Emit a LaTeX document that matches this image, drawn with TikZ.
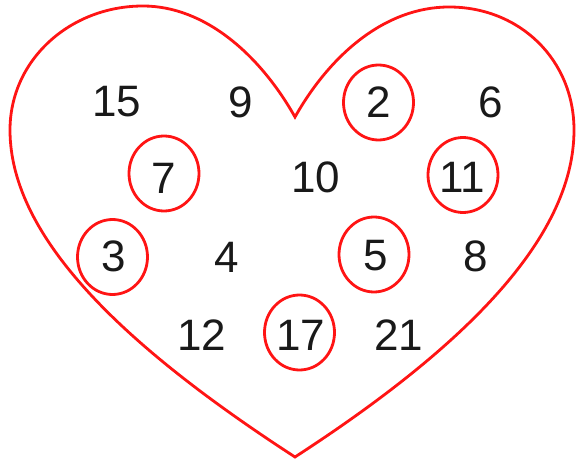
\documentclass[tikz,border=0pt]{standalone}
\usepackage{fontspec}
\setmainfont{Liberation Sans}
\usetikzlibrary{shapes.geometric}
\definecolor{heartred}{RGB}{255,20,20}
\definecolor{numink}{RGB}{25,25,25}
\begin{document}
\begin{tikzpicture}[x=1pt,y=-1pt,
  num/.style={inner sep=0pt, text=numink, font=\fontsize{44}{48}\selectfont},
  ring/.style={ellipse, draw=heartred, line width=2.8pt, minimum width=70pt, minimum height=75pt, inner sep=0pt},
  heartline/.style={draw=heartred, line width=2.8pt, line join=miter}]
\useasboundingbox (0,0) rectangle (576,462);
% heart
\coordinate (N) at (295,117);
\coordinate (LT) at (143,6);
\coordinate (LE) at (10,130);
\coordinate (B) at (295,457);
\coordinate (RE) at (574,130);
\coordinate (RT) at (449,7);
\draw[heartline] (N) .. controls (260,55) and (205,6) .. (LT)
  .. controls (70,6) and (10,60) .. (LE)
  .. controls (10,240) and (130,350) .. (B)
  .. controls (460,350) and (574,240) .. (RE)
  .. controls (574,60) and (520,7) .. (RT)
  .. controls (385,7) and (330,55) .. (N) -- cycle;
% numbers
\node[num] (n15) at (116.5,102) {15};
\node[num] (n9) at (241,102) {9};
\node[num] (n2) at (379,102) {2};
\node[num] (n6) at (491,102) {6};
\node[num] (n7) at (163.5,178) {7};
\node[num] (n10) at (315.5,177.5) {10};
\node[num] (n11) at (462.5,177) {11};
\node[num] (n3) at (114,256.5) {3};
\node[num] (n4) at (227,257) {4};
\node[num] (n5) at (376,256) {5};
\node[num] (n8) at (476,256) {8};
\node[num] (n12) at (202,335) {12};
\node[num] (n17) at (301,335) {17};
\node[num] (n21) at (398.5,335) {21};
% rings round the primes
\node[ring] (r2) at (378.5,102.5) {};
\node[ring] (r7) at (164,173.5) {};
\node[ring] (r11) at (463,175) {};
\node[ring] (r3) at (112.5,257) {};
\node[ring] (r5) at (374,254.5) {};
\node[ring] (r17) at (299.5,332.5) {};
\end{tikzpicture}
\end{document}
